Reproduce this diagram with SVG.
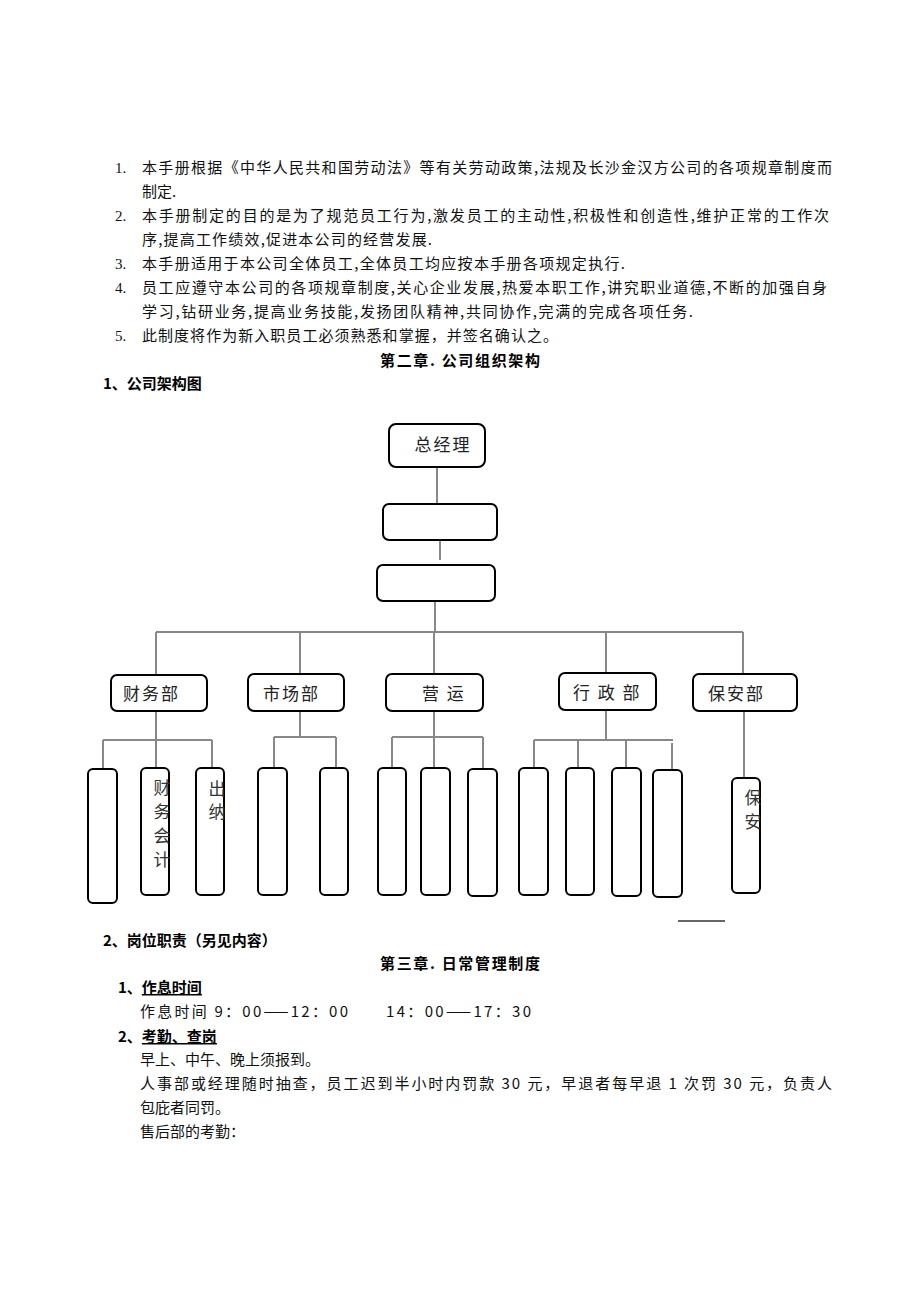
<svg xmlns="http://www.w3.org/2000/svg" width="920" height="1302" viewBox="0 0 920 1302">
<style>
.b{font-family:"Noto Sans CJK SC","Liberation Sans",sans-serif;font-size:15px;fill:#111}
.n{font-family:"Liberation Serif","Noto Sans CJK SC",serif;font-size:15px;fill:#111}
.h{font-family:"Noto Sans CJK SC","Liberation Sans",sans-serif;font-size:15px;font-weight:bold;fill:#000}
.t{font-family:"Noto Sans CJK SC","Liberation Sans",sans-serif;font-size:17px;fill:#222}
.v{font-family:"Noto Sans CJK SC","Liberation Sans",sans-serif;font-size:17px;fill:#333}
.box{fill:#fff;stroke:#000;stroke-width:2}
.c{stroke:#888;stroke-width:2;fill:none}
</style>
<rect width="920" height="1302" fill="#fff"/>
<g id="intro">
<text class="n" x="115" y="173">1.</text>
<text class="b" x="142" y="173" textLength="690" lengthAdjust="spacing">本手册根据《中华人民共和国劳动法》等有关劳动政策,法规及长沙金汉方公司的各项规章制度而</text>
<text class="b" x="142" y="197">制定.</text>
<text class="n" x="115" y="221">2.</text>
<text class="b" x="142" y="221" textLength="687" lengthAdjust="spacing">本手册制定的目的是为了规范员工行为,激发员工的主动性,积极性和创造性,维护正常的工作次</text>
<text class="b" x="142" y="245" textLength="290" lengthAdjust="spacing">序,提高工作绩效,促进本公司的经营发展.</text>
<text class="n" x="115" y="269">3.</text>
<text class="b" x="142" y="269" textLength="483" lengthAdjust="spacing">本手册适用于本公司全体员工,全体员工均应按本手册各项规定执行.</text>
<text class="n" x="115" y="293">4.</text>
<text class="b" x="142" y="293" textLength="685" lengthAdjust="spacing">员工应遵守本公司的各项规章制度,关心企业发展,热爱本职工作,讲究职业道德,不断的加强自身</text>
<text class="b" x="142" y="317" textLength="551" lengthAdjust="spacing">学习,钻研业务,提高业务技能,发扬团队精神,共同协作,完满的完成各项任务.</text>
<text class="n" x="115" y="341">5.</text>
<text class="b" x="142" y="341" textLength="416" lengthAdjust="spacing">此制度将作为新入职员工必须熟悉和掌握，并签名确认之。</text>
<text class="h" x="380" y="366" textLength="160" lengthAdjust="spacing">第二章.  公司组织架构</text>
<text class="h" x="103" y="389">1、公司架构图</text>
</g>
<g id="connectors">
<path class="c" d="M437 468V510M440 540V560M435 601V632M156 632H743M156 632V675M300 632V674M434 632V674M606 632V673M743 632V674"/>
<path class="c" d="M156 711V740M103 740H212M103 740V769M156 740V768M212 740V768"/>
<path class="c" d="M300 711V737M274 737H336M274 737V768M336 737V768"/>
<path class="c" d="M434 711V737M392 737H483M392 737V769M434 737V769M483 737V769"/>
<path class="c" d="M606 710V740M534 740H673M534 740V768M578 740V768M626 740V768M672 743V772"/>
<path class="c" d="M744 711V778"/>
<path d="M678 921H725" stroke="#666" stroke-width="2"/>
</g>
<g id="n-gm"><rect class="box" x="389" y="424" width="96" height="43" rx="7"/><text class="t" x="443" y="451" text-anchor="middle" letter-spacing="2">总经理</text></g>
<g id="n-l2"><rect class="box" x="383" y="504" width="114" height="36" rx="6"/></g>
<g id="n-l3"><rect class="box" x="377" y="565" width="118" height="36" rx="6"/></g>
<g id="n-cw"><rect class="box" x="111" y="675" width="96" height="36" rx="6"/><text class="t" x="123" y="700" letter-spacing="2">财务部</text></g>
<g id="n-sc"><rect class="box" x="248" y="674" width="96" height="37" rx="6"/><text class="t" x="263" y="700" letter-spacing="2">市场部</text></g>
<g id="n-yy"><rect class="box" x="386" y="674" width="97" height="37" rx="6"/><text class="t" x="422" y="700" letter-spacing="2">营 运</text></g>
<g id="n-xz"><rect class="box" x="559" y="673" width="97" height="37" rx="6"/><text class="t" x="573" y="699" letter-spacing="2">行 政 部</text></g>
<g id="n-ba"><rect class="box" x="693" y="674" width="104" height="37" rx="6"/><text class="t" x="708" y="700" letter-spacing="2">保安部</text></g>
<g id="n-a"><rect class="box" x="88" y="769" width="29" height="134" rx="5"/></g>
<g id="n-b"><rect class="box" x="141" y="768" width="28" height="127" rx="5"/>
<text class="v" x="162" y="794" text-anchor="middle">财</text><text class="v" x="162" y="818" text-anchor="middle">务</text><text class="v" x="162" y="842" text-anchor="middle">会</text><text class="v" x="162" y="866" text-anchor="middle">计</text></g>
<g id="n-c"><rect class="box" x="196" y="768" width="28" height="127" rx="5"/>
<text class="v" x="217" y="795" text-anchor="middle">出</text><text class="v" x="217" y="818" text-anchor="middle">纳</text></g>
<g id="n-d"><rect class="box" x="258" y="768" width="29" height="127" rx="5"/></g>
<g id="n-e"><rect class="box" x="320" y="768" width="28" height="127" rx="5"/></g>
<g id="n-f"><rect class="box" x="378" y="768" width="28" height="127" rx="5"/></g>
<g id="n-g"><rect class="box" x="421" y="768" width="29" height="127" rx="5"/></g>
<g id="n-h"><rect class="box" x="468" y="769" width="29" height="127" rx="5"/></g>
<g id="n-i"><rect class="box" x="519" y="768" width="29" height="127" rx="5"/></g>
<g id="n-j"><rect class="box" x="566" y="768" width="28" height="127" rx="5"/></g>
<g id="n-k"><rect class="box" x="612" y="768" width="29" height="128" rx="5"/></g>
<g id="n-l"><rect class="box" x="653" y="770" width="29" height="127" rx="5"/></g>
<g id="n-m"><rect class="box" x="732" y="778" width="28" height="115" rx="5"/>
<text class="v" x="753" y="804" text-anchor="middle">保</text><text class="v" x="753" y="828" text-anchor="middle">安</text></g>
<g id="rules">
<text class="h" x="103" y="946">2、岗位职责（另见内容）</text>
<text class="h" x="380" y="969" textLength="160" lengthAdjust="spacing">第三章.  日常管理制度</text>
<text class="h" x="118" y="993">1、<tspan text-decoration="underline">作息时间</tspan></text>
<text class="b" x="140" y="1017" textLength="208" lengthAdjust="spacing">作息时间 9：00——12：00</text>
<text class="b" x="386" y="1017" textLength="145" lengthAdjust="spacing">14：00——17：30</text>
<text class="h" x="118" y="1042">2、<tspan text-decoration="underline">考勤、查岗</tspan></text>
<text class="b" x="140" y="1065">早上、中午、晚上须报到。</text>
<text class="b" x="140" y="1089" textLength="692" lengthAdjust="spacing">人事部或经理随时抽查，员工迟到半小时内罚款 30 元，早退者每早退 1 次罚 30 元，负责人</text>
<text class="b" x="140" y="1113">包庇者同罚。</text>
<text class="b" x="140" y="1137">售后部的考勤：</text>
</g>
</svg>
